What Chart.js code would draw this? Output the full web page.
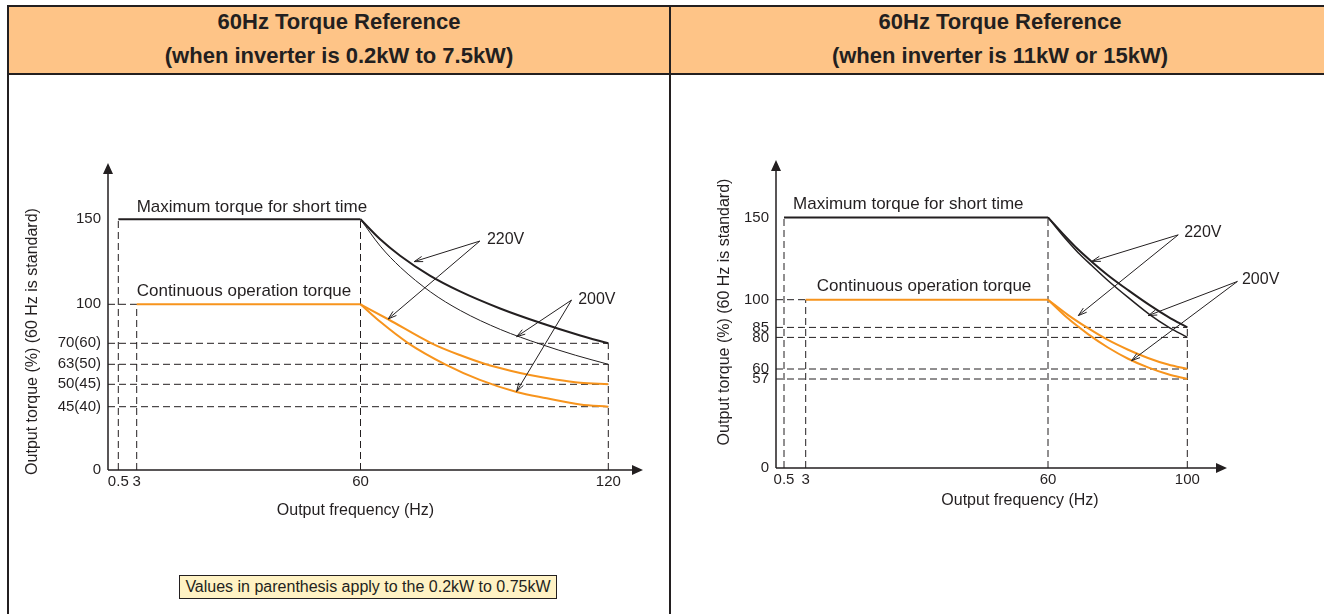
<!DOCTYPE html>
<html>
<head>
<meta charset="utf-8">
<script src="https://cdn.jsdelivr.net/npm/chart.js@4.4.0/dist/chart.umd.min.js"></script>
<style>
  body { margin: 0; background: #fff; font-family: "Liberation Sans", Arial, sans-serif; color: #231f20; }
  #page { position: relative; width: 1324px; height: 614px; overflow: hidden; }
  .rule { position: absolute; background: #231f20; }
  .head { position: absolute; top: 7px; height: 67px; background: #fec487; }
  .title { position: absolute; top: 5px; height: 68px; line-height: 34px; font-size: 22px; font-weight: bold; text-align: center; }
  canvas { position: absolute; top: 76px; }
  #note { position: absolute; left: 179px; top: 575px; width: 376px; height: 22px; line-height: 22px;
          background: #fff2c4; border: 1px solid #231f20; font-size: 16px; text-align: center; }
</style>
</head>
<body>
<div id="page">
  <div class="head" style="left:9px; width:1320px"></div>
  <div class="rule" style="left:7px; top:5px; width:1320px; height:2px"></div>
  <div class="rule" style="left:7px; top:73px; width:1320px; height:2px"></div>
  <div class="rule" style="left:7px; top:5px; width:2px; height:612px"></div>
  <div class="rule" style="left:669px; top:5px; width:2px; height:612px"></div>
  <div class="title" style="left:9px; width:660px">60Hz Torque Reference<br>(when inverter is 0.2kW to 7.5kW)</div>
  <div class="title" style="left:671px; width:658px">60Hz Torque Reference<br>(when inverter is 11kW or 15kW)</div>
  <canvas id="leftChart" width="660" height="538" style="left:9px"></canvas>
  <canvas id="rightChart" width="652" height="538" style="left:672px"></canvas>
  <div id="note">Values in parenthesis apply to the 0.2kW to 0.75kW</div>
</div>
<script>
// ---- left panel: 0.2kW to 7.5kW ----
const leftFreqTicks = [0.5, 3, 60, 120];
const leftTorqueTicks = [0, 45, 50, 63, 70, 100, 150];
const leftTorqueSmall = [null, 40, 45, 50, 60, null, null];

const leftMaxFlatFreq = [0.5, 60];
const leftMaxFlatTorque = [150, 150];
const leftContFlatFreq = [3, 60];
const leftContFlatTorque = [100, 100];

const leftMax220Freq = [60, 64.7, 69.6, 76.8, 84.1, 93.8, 103.5, 113.2, 120];
const leftMax220Torque = [150, 138.4, 128.6, 116.9, 107.6, 96.8, 85.8, 76.0, 70];
const leftMax200Freq = [60, 64.8, 69.7, 77.0, 84.2, 93.9, 103.6, 112.1, 120];
const leftMax200Torque = [150, 134.2, 121.7, 107.2, 95.2, 80.6, 69.7, 66.0, 63];
const leftCont220Freq = [60, 66.7, 77.2, 84.2, 90.2, 96.3, 101.0, 107.2, 113.2, 120];
const leftCont220Torque = [100, 88.5, 70, 66, 63.1, 58.8, 56.0, 53.1, 51.0, 50];
const leftCont200Freq = [60, 64.8, 71.6, 80.5, 88.9, 97.8, 105.1, 113.2, 120];
const leftCont200Torque = [100, 86.5, 70, 63, 52.9, 48.3, 46.9, 45.5, 45];

// dashed guides: [freq, up to torque] and [torque, out to freq]
const leftGuideFreq = [[0.5, 150], [3, 100], [60, 150], [120, 70]];
const leftGuideTorque = [[100, 3], [70, 120], [63, 120], [50, 120], [45, 120]];

// ---- right panel: 11kW or 15kW ----
const rightFreqTicks = [0.5, 3, 60, 100];
const rightTorqueTicks = [0, 57, 60, 80, 85, 100, 150];

const rightMaxFlatFreq = [0.5, 60];
const rightMaxFlatTorque = [150, 150];
const rightContFlatFreq = [3, 60];
const rightContFlatTorque = [100, 100];

const rightMax220Freq = [60, 64.3, 68.6, 72.55, 77.2, 83.0, 89.3, 94.5, 100];
const rightMax220Torque = [150, 140.0, 130.6, 123.1, 114.9, 105.8, 96.9, 90.7, 85];
const rightMax200Freq = [60, 64.3, 68.6, 72.55, 77.2, 83.0, 89.3, 94.5, 100];
const rightMax200Torque = [150, 138.8, 128.7, 120.8, 111.7, 101.4, 91.8, 85.3, 80];
const rightCont220Freq = [60, 65.7, 71.5, 77.2, 83.0, 88.7, 94.5, 100];
const rightCont220Torque = [100, 91.8, 84.6, 78.4, 72.2, 67.0, 62.8, 60];
const rightCont200Freq = [60, 65.7, 71.5, 77.2, 83.0, 88.7, 94.5, 100];
const rightCont200Torque = [100, 89.9, 81.65, 73.6, 66.5, 61.0, 58.4, 57];

const rightGuideFreq = [[0.5, 150], [3, 100], [60, 150], [100, 85]];
const rightGuideTorque = [[100, 3], [85, 100], [80, 100], [60, 100], [57, 100]];

const INK = "#231f20";
const ORANGE = "#f7941d";

// schematic axis: values sit at fixed offsets (px) along the axis, linear in between
class PiecewiseScale extends Chart.LinearScale {
  static id = "piecewise";
  static defaults = Chart.LinearScale.defaults;
  buildTicks() {
    return this.options.tickValues.map(v => ({ value: v }));
  }
  offsetFor(value) {
    const k = this.options.knots;
    let i = 1;
    while (i < k.length - 1 && value > k[i][0]) i++;
    const a = k[i - 1], b = k[i];
    return a[1] + (value - a[0]) * (b[1] - a[1]) / (b[0] - a[0]);
  }
  getPixelForValue(value) {
    const off = this.offsetFor(value);
    return this.isHorizontal() ? this.left + off : this.bottom - off;
  }
  getValueForPixel(pixel) {
    const k = this.options.knots;
    const off = this.isHorizontal() ? pixel - this.left : this.bottom - pixel;
    let i = 1;
    while (i < k.length - 1 && off > k[i][1]) i++;
    const a = k[i - 1], b = k[i];
    return a[0] + (off - a[1]) * (b[0] - a[0]) / (b[1] - a[1]);
  }
}
Chart.register(PiecewiseScale);

function pts(xs, ys) {
  return xs.map((x, i) => ({ x: x, y: ys[i] }));
}

function solid(xs, ys, color, width, curved) {
  return {
    data: pts(xs, ys), showLine: true, borderColor: color, borderWidth: width,
    pointRadius: 0, clip: false, cubicInterpolationMode: curved ? "monotone" : "default", tension: 0
  };
}

function guides(freqGuides, torqueGuides) {
  const sets = [];
  freqGuides.forEach(g => sets.push({ data: [{ x: g[0], y: 0 }, { x: g[0], y: g[1] }] }));
  torqueGuides.forEach(g => sets.push({ data: [{ x: 0, y: g[0] }, { x: g[1], y: g[0] }] }));
  return sets.map(s => Object.assign(s, {
    showLine: true, borderColor: INK, borderWidth: 1, borderDash: [7, 4],
    pointRadius: 0, clip: false, order: 5
  }));
}

// axis arrows, curve captions and pointer arrows
function decor(cfg) {
  return {
    id: "decor",
    afterDatasetsDraw(chart) {
      const { ctx, scales: { x, y } } = chart;
      const ox = x.getPixelForValue(0), oy = y.getPixelForValue(0);
      const xe = ox + cfg.xLength, ye = oy - cfg.yLength;
      ctx.save();
      ctx.strokeStyle = INK;
      ctx.fillStyle = INK;
      ctx.lineWidth = 1.5;
      ctx.beginPath();
      ctx.moveTo(ox, oy); ctx.lineTo(xe - 6, oy);
      ctx.moveTo(ox, oy); ctx.lineTo(ox, ye + 6);
      ctx.stroke();
      ctx.beginPath();
      ctx.moveTo(xe, oy); ctx.lineTo(xe - 11, oy - 5); ctx.lineTo(xe - 11, oy + 5); ctx.closePath();
      ctx.moveTo(ox, ye); ctx.lineTo(ox - 5, ye + 11); ctx.lineTo(ox + 5, ye + 11); ctx.closePath();
      ctx.fill();

      ctx.textAlign = "left";
      ctx.textBaseline = "middle";
      cfg.captions.forEach(c => {
        ctx.font = c.size + "px 'Liberation Sans', Arial, sans-serif";
        ctx.fillText(c.text, x.getPixelForValue(c.at[0]), y.getPixelForValue(c.at[1]));
      });

      ctx.lineWidth = 1;
      cfg.pointers.forEach(p => {
        const sx = x.getPixelForValue(p.from[0]), sy = y.getPixelForValue(p.from[1]);
        p.to.forEach(t => {
          const tx = x.getPixelForValue(t[0]), ty = y.getPixelForValue(t[1]);
          const ang = Math.atan2(ty - sy, tx - sx);
          ctx.beginPath();
          ctx.moveTo(sx, sy); ctx.lineTo(tx, ty);
          ctx.moveTo(tx - 9 * Math.cos(ang - 0.3), ty - 9 * Math.sin(ang - 0.3));
          ctx.lineTo(tx, ty);
          ctx.lineTo(tx - 9 * Math.cos(ang + 0.3), ty - 9 * Math.sin(ang + 0.3));
          ctx.stroke();
        });
      });
      ctx.restore();
    }
  };
}

function build(canvasId, p) {
  const tickFont = { family: "'Liberation Sans', Arial, sans-serif", size: 15 };
  const titleFont = { family: "'Liberation Sans', Arial, sans-serif", size: 16 };
  new Chart(document.getElementById(canvasId).getContext("2d"), {
    type: "scatter",
    data: {
      datasets: [
        solid(p.maxFlat[0], p.maxFlat[1], INK, 2, false),
        solid(p.max220[0], p.max220[1], INK, 2, true),
        solid(p.max200[0], p.max200[1], INK, p.thinWidth, true),
        solid(p.contFlat[0], p.contFlat[1], ORANGE, 2, false),
        solid(p.cont220[0], p.cont220[1], ORANGE, 2, true),
        solid(p.cont200[0], p.cont200[1], ORANGE, 2, true)
      ].concat(guides(p.guideFreq, p.guideTorque))
    },
    options: {
      responsive: false,
      animation: false,
      events: [],
      layout: { padding: p.padding },
      plugins: { legend: { display: false }, tooltip: { enabled: false } },
      scales: {
        x: {
          type: "piecewise", position: "bottom", min: 0, max: 130,
          knots: p.xKnots, tickValues: p.freqTicks,
          afterFit: s => { s.height = p.xHeight; },
          grid: { display: false, drawTicks: false }, border: { display: false },
          ticks: { autoSkip: false, maxRotation: 0, padding: 3, color: INK, font: tickFont },
          title: { display: true, text: "Output frequency (Hz)", color: INK, font: titleFont, padding: 0 }
        },
        y: {
          type: "piecewise", position: "left", min: 0, max: 180,
          knots: p.yKnots, tickValues: p.torqueTicks,
          afterFit: s => { s.width = p.yWidth; },
          grid: { display: false, drawTicks: false }, border: { display: false },
          ticks: {
            autoSkip: false, padding: 7, color: INK, font: tickFont,
            callback: (v) => {
              const i = p.torqueTicks.indexOf(v);
              const small = p.torqueSmall ? p.torqueSmall[i] : null;
              return small == null ? String(v) : v + "(" + small + ")";
            }
          },
          title: { display: true, text: "Output torque (%) (60 Hz is standard)", color: INK, font: titleFont,
                   padding: { top: p.yTitlePad, bottom: 0 } }
        }
      }
    },
    plugins: [decor(p.decor)]
  });
}

build("leftChart", {
  freqTicks: leftFreqTicks, torqueTicks: leftTorqueTicks, torqueSmall: leftTorqueSmall,
  maxFlat: [leftMaxFlatFreq, leftMaxFlatTorque], contFlat: [leftContFlatFreq, leftContFlatTorque],
  max220: [leftMax220Freq, leftMax220Torque], max200: [leftMax200Freq, leftMax200Torque],
  cont220: [leftCont220Freq, leftCont220Torque], cont200: [leftCont200Freq, leftCont200Torque],
  guideFreq: leftGuideFreq, guideTorque: leftGuideTorque, thinWidth: 1,
  xKnots: [[0, 0], [0.5, 10.3], [3, 28.7], [60, 252.5], [120, 500.3]],
  yKnots: [[0, 0], [45, 63.3], [50, 85.7], [63, 105.7], [70, 126.7], [100, 165.7], [150, 250.7]],
  padding: { left: 0, top: 137, right: 66, bottom: 94 }, xHeight: 50, yWidth: 99, yTitlePad: 14,
  decor: {
    xLength: 535, yLength: 307,
    captions: [
      { text: "Maximum torque for short time", at: [3, 157.1], size: 17 },
      { text: "Continuous operation torque", at: [3, 107.4], size: 17 },
      { text: "220V", at: [90.6, 137.8], size: 16 },
      { text: "200V", at: [112.7, 102.5], size: 16 }
    ],
    pointers: [
      { from: [88.9, 137.2], to: [[73.0, 125.1], [66.7, 88.7]] },
      { from: [111.1, 102.5], to: [[97.8, 75.1], [97.8, 48.4]] }
    ]
  }
});

build("rightChart", {
  freqTicks: rightFreqTicks, torqueTicks: rightTorqueTicks, torqueSmall: null,
  maxFlat: [rightMaxFlatFreq, rightMaxFlatTorque], contFlat: [rightContFlatFreq, rightContFlatTorque],
  max220: [rightMax220Freq, rightMax220Torque], max200: [rightMax200Freq, rightMax200Torque],
  cont220: [rightCont220Freq, rightCont220Torque], cont200: [rightCont200Freq, rightCont200Torque],
  guideFreq: rightGuideFreq, guideTorque: rightGuideTorque, thinWidth: 1.5,
  xKnots: [[0, 0], [0.5, 8], [3, 29.7], [60, 272], [100, 411.3]],
  yKnots: [[0, 0], [57, 89], [60, 99], [80, 130.6], [85, 140.6], [100, 168.3], [150, 250.6]],
  padding: { left: 0, top: 80, right: 60, bottom: 104 }, xHeight: 42, yWidth: 104, yTitlePad: 43,
  decor: {
    xLength: 451, yLength: 308,
    captions: [
      { text: "Maximum torque for short time", at: [1.54, 157.7], size: 17 },
      { text: "Continuous operation torque", at: [5.6, 108.1], size: 17 },
      { text: "220V", at: [99.1, 140.7], size: 16 },
      { text: "200V", at: [115.7, 112.2], size: 16 }
    ],
    pointers: [
      { from: [97.4, 139.4], to: [[72.6, 123.3], [68.7, 91.4]] },
      { from: [114.4, 111.1], to: [[88.8, 91.4], [84, 65.3]] }
    ]
  }
});
</script>
</body>
</html>
